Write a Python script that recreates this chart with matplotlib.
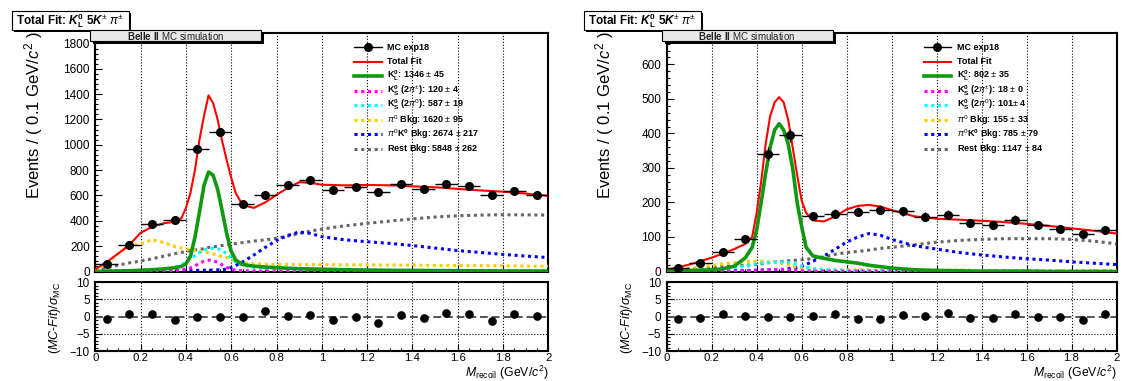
#
# kl_recoil_fit.py
# ----------------
#

import numpy as np
import matplotlib.pyplot as plt
from matplotlib.patches import Rectangle
from matplotlib.ticker import MultipleLocator

plt.rcParams['font.family'] = ['Liberation Sans', 'DejaVu Sans']
plt.rcParams['mathtext.fontset'] = 'custom'
plt.rcParams['mathtext.rm'] = 'Liberation Sans'
plt.rcParams['mathtext.it'] = 'Liberation Sans:italic'
plt.rcParams['mathtext.bf'] = 'Liberation Sans:bold'
plt.rcParams['mathtext.bfit'] = 'Liberation Sans:italic:bold'
plt.rcParams['axes.unicode_minus'] = True

# ---------------- data ----------------
bin_centers = [0.05, 0.15, 0.25, 0.35, 0.45, 0.55, 0.65, 0.75, 0.85, 0.95,
               1.05, 1.15, 1.25, 1.35, 1.45, 1.55, 1.65, 1.75, 1.85, 1.95]

# left canvas
mc_left = [57, 210, 375, 410, 970, 1100, 535, 600, 680, 722,
           645, 668, 626, 690, 650, 688, 672, 607, 638, 603]
pull_left = [-0.6, 0.8, 0.8, -0.9, -0.2, -0.2, -0.2, 1.5, 0.1, 0.5,
             -1.1, -0.2, -1.8, 0.5, -0.5, 1.1, 0.8, -1.35, 0.8, 0.1]

# right canvas
mc_right = [10, 26, 56, 93, 341, 394, 161, 167, 173, 179,
            174, 159, 164, 140, 134, 150, 135, 122, 108, 119]
pull_right = [-0.8, -0.4, 0.8, 0.1, -0.2, -0.2, 0.1, 0.8, -0.8, -0.8,
              0.5, 0.3, 1.1, -0.4, -0.5, 0.8, 0.0, 0.0, -1.0, 0.8]

# fit curves
curve_x = [0.0, 0.05, 0.1, 0.15, 0.2, 0.25, 0.3, 0.35, 0.38, 0.4,
           0.42, 0.44, 0.46, 0.48, 0.5, 0.52, 0.54, 0.56, 0.58, 0.6,
           0.62, 0.65, 0.7, 0.75, 0.8, 0.85, 0.9, 0.95, 1.0, 1.1,
           1.2, 1.3, 1.4, 1.5, 1.6, 1.7, 1.8, 1.9, 2.0]

total_left = [17, 75, 140, 210, 305, 352, 380, 392, 420, 500,
              620, 800, 1040, 1230, 1390, 1330, 1200, 1030, 880, 740,
              620, 525, 502, 545, 605, 660, 705, 700, 685, 680,
              683, 680, 672, 665, 652, 640, 630, 615, 597]
kl_left = [0, 2, 4, 6, 10, 14, 20, 30, 40, 60,
           120, 270, 470, 680, 785, 760, 650, 480, 300, 160,
           90, 55, 42, 35, 30, 26, 22, 20, 18, 14,
           11, 9, 8, 7, 6, 5, 4, 4, 3]
ks_pm_left = [0, 0, 1, 1, 2, 3, 5, 8, 12, 18,
              28, 45, 65, 82, 90, 85, 72, 52, 32, 18,
              10, 6, 4, 3, 2, 2, 2, 2, 2, 2,
              1, 1, 1, 1, 1, 1, 1, 1, 1]
ks_00_left = [0, 1, 2, 3, 5, 8, 15, 30, 50, 75,
              100, 125, 150, 170, 180, 185, 180, 165, 140, 105,
              75, 50, 32, 25, 20, 18, 16, 15, 14, 13,
              12, 11, 10, 10, 9, 9, 8, 8, 8]
pi0_left = [10, 60, 140, 200, 218, 250, 230, 198, 186, 178,
            172, 166, 160, 155, 150, 140, 128, 118, 110, 95,
            80, 68, 62, 58, 56, 55, 55, 54, 54, 53,
            52, 51, 50, 48, 47, 46, 45, 43, 42]
pi0k0_left = [3, 3, 3, 3, 4, 4, 4, 5, 5, 6,
              7, 8, 9, 10, 11, 12, 13, 14, 18, 32,
              48, 75, 130, 190, 245, 285, 312, 300, 275, 250,
              235, 222, 205, 185, 165, 150, 135, 122, 110]
rest_left = [10, 30, 50, 68, 82, 100, 120, 140, 150, 160,
             165, 170, 175, 180, 190, 195, 200, 205, 210, 215,
             220, 228, 240, 250, 262, 280, 300, 318, 335, 360,
             380, 398, 415, 430, 440, 445, 448, 447, 445]

total_right = [5, 12, 20, 30, 40, 52, 65, 80, 100, 170,
               260, 370, 450, 490, 505, 490, 440, 360, 280, 205,
               170, 148, 145, 160, 180, 190, 193, 188, 178, 160,
               153, 150, 147, 143, 138, 132, 125, 118, 110]
kl_right = [1, 2, 3, 4, 5, 8, 15, 40, 70, 120,
            200, 285, 360, 410, 428, 410, 370, 300, 200, 130,
            70, 45, 38, 32, 28, 24, 18, 14, 10, 5,
            3, 2, 1, 1, 1, 0, 0, 0, 0]
ks_pm_right = [0, 0, 0, 0, 0, 1, 1, 2, 2, 3,
               4, 5, 5, 6, 6, 6, 5, 4, 3, 2,
               2, 1, 1, 1, 1, 1, 1, 1, 1, 0,
               0, 0, 0, 0, 0, 0, 0, 0, 0]
ks_00_right = [0, 0, 1, 2, 3, 5, 10, 16, 20, 22,
               24, 25, 26, 27, 28, 27, 26, 24, 20, 15,
               12, 8, 6, 4, 3, 2, 2, 2, 2, 1,
               1, 1, 1, 1, 1, 1, 1, 1, 1]
pi0_right = [2, 5, 8, 13, 18, 22, 25, 28, 30, 30,
             30, 29, 28, 27, 25, 22, 19, 15, 12, 10,
             8, 7, 6, 5, 5, 5, 4, 4, 4, 4,
             4, 4, 3, 3, 3, 3, 3, 3, 3]
pi0k0_right = [1, 1, 1, 1, 1, 2, 2, 3, 3, 4,
               4, 5, 5, 5, 5, 6, 8, 10, 12, 15,
               20, 30, 45, 65, 85, 100, 110, 105, 93, 75,
               65, 55, 48, 42, 37, 33, 28, 24, 20]
rest_right = [3, 5, 8, 10, 12, 14, 16, 18, 19, 20,
              22, 24, 26, 28, 28, 30, 31, 32, 33, 34,
              35, 38, 42, 50, 55, 58, 62, 67, 70, 77,
              85, 90, 93, 95, 95, 95, 93, 88, 80]

labels_left = ["MC exp18", "Total Fit",
               r"$\mathbf{K}_{\mathbf{L}}^{\mathbf{0}}$: 1346 $\pm$ 45",
               r"$\mathbf{K}_{\mathbf{S}}^{\mathbf{0}}$ (2$\pi^{\pm}$): 120 $\pm$ 4",
               r"$\mathbf{K}_{\mathbf{S}}^{\mathbf{0}}$ (2$\pi^{0}$): 587 $\pm$ 19",
               r"$\pi^{0}$ Bkg: 1620 $\pm$ 95",
               r"$\pi^{0}\mathbf{K}^{\mathbf{0}}$ Bkg: 2674 $\pm$ 217",
               r"Rest Bkg: 5848 $\pm$ 262"]
labels_right = ["MC exp18", "Total Fit",
                r"$\mathbf{K}_{\mathbf{L}}^{\mathbf{0}}$: 802 $\pm$ 35",
                r"$\mathbf{K}_{\mathbf{S}}^{\mathbf{0}}$ (2$\pi^{\pm}$): 18 $\pm$ 0",
                r"$\mathbf{K}_{\mathbf{S}}^{\mathbf{0}}$ (2$\pi^{0}$): 101$\pm$ 4",
                r"$\pi^{0}$ Bkg: 155 $\pm$ 33",
                r"$\pi^{0}\mathbf{K}^{\mathbf{0}}$ Bkg: 785 $\pm$ 79",
                r"Rest Bkg: 1147 $\pm$ 84"]

# ---------------- style ----------------
W, H = 1122.0, 381.0
DOT = (0, (1, 1.2))
styles = [dict(color='#ff0000', lw=1.5, ls='-'),
          dict(color='#109910', lw=2.6, ls='-'),
          dict(color='#ff00ff', lw=2.2, ls=DOT),
          dict(color='#00ffff', lw=2.2, ls=DOT),
          dict(color='#ffcc00', lw=2.2, ls=DOT),
          dict(color='#0000ff', lw=2.2, ls=DOT),
          dict(color='#666666', lw=2.2, ls=DOT)]


def px_rect(x0, y0, x1, y1):
    return [x0 / W, 1 - y1 / H, (x1 - x0) / W, (y1 - y0) / H]


def add_box(x0, y0, x1, y1, face, shadow=2.5):
    fig.add_artist(Rectangle((x0 / W + shadow / W, 1 - y1 / H - shadow / H),
                             (x1 - x0) / W, (y1 - y0) / H, transform=fig.transFigure,
                             facecolor='k', edgecolor='k', lw=0, zorder=5))
    fig.add_artist(Rectangle((x0 / W, 1 - y1 / H), (x1 - x0) / W, (y1 - y0) / H,
                             transform=fig.transFigure, facecolor=face,
                             edgecolor='k', lw=0.8, zorder=6))


def style_axes(ax):
    for s in ax.spines.values():
        s.set_linewidth(1.5)
    ax.tick_params(which='both', direction='in', top=False, right=False,
                   labelsize=8.5, pad=4)
    ax.tick_params(which='major', length=5, width=0.8)
    ax.tick_params(which='minor', length=2.5, width=0.8)
    ax.set_xlim(0, 2)
    ax.xaxis.set_major_locator(MultipleLocator(0.2))
    ax.xaxis.set_minor_locator(MultipleLocator(0.05))
    ax.grid(axis='x', which='major', ls=':', color='k', lw=0.8)


fig = plt.figure(figsize=(11.22, 3.81), dpi=100)

panels = [
    (95.3, 548.3, 1880, 200, 40, mc_left, pull_left,
     [total_left, kl_left, ks_pm_left, ks_00_left, pi0_left, pi0k0_left, rest_left],
     labels_left),
    (666.7, 1116.5, 690, 100, 20, mc_right, pull_right,
     [total_right, kl_right, ks_pm_right, ks_00_right, pi0_right, pi0k0_right, rest_right],
     labels_right),
]

for x0, x1, ymax, ymaj, ymin, mc, pull, curves, labels in panels:
    ax = fig.add_axes(px_rect(x0, 33.3, x1, 271.5))
    style_axes(ax)
    ax.set_ylim(0, ymax)
    ax.yaxis.set_major_locator(MultipleLocator(ymaj))
    ax.yaxis.set_minor_locator(MultipleLocator(ymin))
    ax.tick_params(axis='x', labelbottom=False)

    for k in [6, 5, 4, 3, 2, 1, 0]:
        ax.plot(curve_x, curves[k], zorder=3, **styles[k])
    ax.errorbar(bin_centers, mc, xerr=0.05, yerr=np.sqrt(mc), fmt='o', color='k',
                ms=5.5, elinewidth=1, capsize=0, zorder=4)

    # legend drawn by hand in axes coordinates
    lx0, lx1, tx = 0.571, 0.633, 0.645
    ly, dy = 0.941, 0.0609
    for i, lab in enumerate(labels):
        y = ly - i * dy
        if i == 0:
            ax.plot([lx0, lx1], [y, y], color='k', lw=1, transform=ax.transAxes)
            ax.plot([(lx0 + lx1) / 2], [y], 'o', color='k', ms=5.5,
                    transform=ax.transAxes)
        else:
            ax.plot([lx0, lx1], [y, y], transform=ax.transAxes, **styles[i - 1])
        ax.text(tx, y, lab, transform=ax.transAxes, fontsize=6.5,
                fontweight='bold', va='center', ha='left')

    fig.text((x0 - 62) / W, 1 - 31 / H, r"Events / ( 0.1 GeV/$c^{2}$ )",
             rotation=90, fontsize=12, ha='center', va='top')

    rax = fig.add_axes(px_rect(x0, 282.3, x1, 351.0))
    style_axes(rax)
    rax.set_ylim(-10, 10)
    rax.yaxis.set_major_locator(MultipleLocator(5))
    rax.yaxis.set_minor_locator(MultipleLocator(1))
    rax.tick_params(axis='x', pad=1.5, labelsize=8.2)
    rax.axhline(5, ls=':', color='k', lw=0.8)
    rax.axhline(-5, ls=':', color='k', lw=0.8)
    rax.axhline(0, ls=(0, (4, 2)), color='#555555', lw=1.4, zorder=2)
    rax.plot(bin_centers, pull, 'o', color='k', ms=5.2, zorder=4)
    rax.set_xticks([0, 0.2, 0.4, 0.6, 0.8, 1, 1.2, 1.4, 1.6, 1.8, 2])
    rax.set_xticklabels(['0', '0.2', '0.4', '0.6', '0.8', '1', '1.2', '1.4',
                         '1.6', '1.8', '2'])

    fig.text((x0 - 40) / W, 1 - 318 / H, r"($\it{MC}$-$\it{Fit}$)/$\sigma_{\rm MC}$",
             rotation=90, fontsize=9, ha='center', va='center')
    fig.text(x1 / W, 1 - 377.3 / H, r"$M_{\rm recoil}$ (GeV/$c^{2}$)",
             fontsize=8.8, ha='right', va='baseline')

    # title box and Belle II box
    add_box(x0 - 83, 11, x0 + 34, 29.5, 'white', shadow=2)
    fig.text((x0 - 79) / W, 1 - 20.5 / H,
             r"Total Fit: $\mathbfit{K}_{\mathbf{L}}^{\mathbf{0}}$ 5$\mathbfit{K}^{\pm}$ $\pi^{\pm}$",
             fontsize=8.5, fontweight='bold', ha='left', va='center', zorder=7)
    add_box(x0 - 5, 30.5, x0 + 166, 40.5, '#e8e8e8', shadow=3)
    fig.text((x0 + 80) / W, 1 - 35.7 / H, r"$\mathbf{Belle\ II}$ MC simulation",
             fontsize=7, ha='center', va='center', zorder=7, color='#222222')

fig.savefig("out.png", dpi=100)
